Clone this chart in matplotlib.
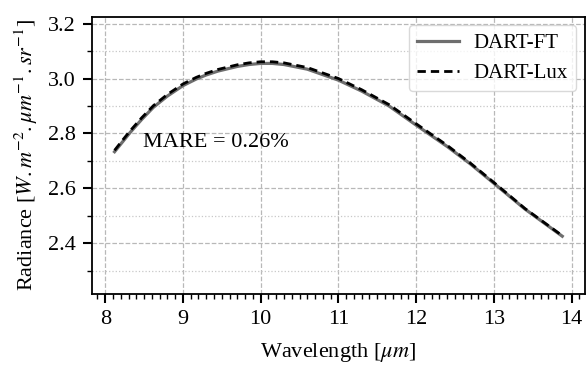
import matplotlib
matplotlib.use("Agg")
import matplotlib.pyplot as plt
from matplotlib.ticker import MultipleLocator

plt.rcParams['font.family'] = 'Liberation Serif'
plt.rcParams['mathtext.fontset'] = 'stix'

# wavelengths (um)
wavelength = [8.12, 8.22, 8.32, 8.47, 8.62, 8.8, 9.0, 9.17, 9.3, 9.45,
              9.7, 9.85, 10.0, 10.15, 10.3, 10.6, 11.0, 11.3, 11.65, 12.0,
              12.4, 12.7, 13.0, 13.4, 13.88]
radiance_ft = [2.733, 2.768, 2.803, 2.851, 2.895, 2.936, 2.974, 2.998,
               3.013, 3.027, 3.044, 3.051, 3.055, 3.055, 3.051, 3.034,
               2.994, 2.954, 2.900, 2.830, 2.752, 2.688, 2.618, 2.524,
               2.425]
radiance_lux = [2.738, 2.774, 2.809, 2.857, 2.901, 2.942, 2.980, 3.004,
                3.019, 3.033, 3.050, 3.057, 3.061, 3.061, 3.057, 3.040,
                3.000, 2.959, 2.905, 2.835, 2.756, 2.691, 2.621, 2.526,
                2.427]

fig = plt.figure(figsize=(5.87, 3.65), dpi=100)
ax = fig.add_axes([0.157, 0.195, 0.839, 0.759])

ax.plot(wavelength, radiance_ft, color='#6e6e6e', lw=2.3, label='DART-FT')
ax.plot(wavelength, radiance_lux, color='black', lw=2, ls=(0, (3, 1.8)),
        label='DART-Lux')

ax.set_ylim(2.215, 3.225)
ax.xaxis.set_major_locator(MultipleLocator(1))
ax.xaxis.set_minor_locator(MultipleLocator(0.1))
ax.yaxis.set_major_locator(MultipleLocator(0.2))
ax.yaxis.set_minor_locator(MultipleLocator(0.1))
ax.grid(True, which='major', ls='--', color='#b8b8b8', lw=0.9)
ax.grid(True, which='minor', axis='y', ls=':', color='#c8c8c8', lw=0.9)
ax.tick_params(which='major', length=6.5, width=1.5, labelsize=16, pad=5)
ax.tick_params(which='minor', length=3.5, width=1)
for s in ax.spines.values():
    s.set_linewidth(1.3)

ax.text(8.48, 2.765, 'MARE = 0.26%', fontsize=16, va='center')
ax.set_xlabel(r'Wavelength [$\mu m$]', fontsize=16, labelpad=9)
ax.set_ylabel(r'Radiance [$W.m^{-2}.\mu m^{-1}.sr^{-1}$]', fontsize=16,
              labelpad=6)
ax.legend(loc='upper right', fontsize=15, framealpha=0.8, edgecolor='#d0d0d0',
          handlelength=2.0, handletextpad=0.7, labelspacing=0.5,
          borderaxespad=0.4)

fig.savefig('out.png', dpi=100)
